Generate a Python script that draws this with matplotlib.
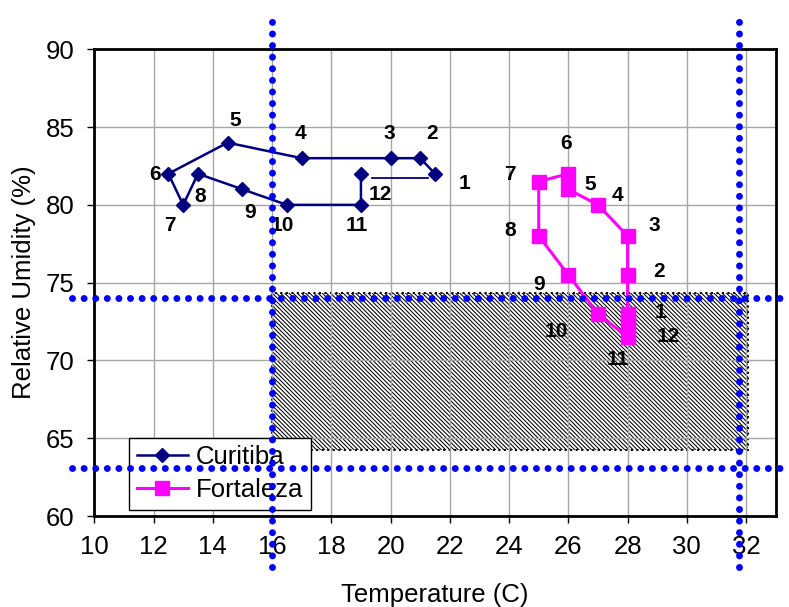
import matplotlib
matplotlib.use("Agg")
import matplotlib.pyplot as plt
from matplotlib.patches import Rectangle

plt.rcParams["font.family"] = ["Liberation Sans", "DejaVu Sans"]
plt.rcParams["hatch.linewidth"] = 0.75

months = [str(m) for m in range(1, 13)]

# mean monthly temperature (C) and relative humidity (%)
curitiba_t = [21.5, 21, 20, 17, 14.5, 12.5, 13, 13.5, 15, 16.5, 19, 19]
curitiba_rh = [82, 83, 83, 83, 84, 82, 80, 82, 81, 80, 80, 82]
fortaleza_t = [28, 28, 28, 27, 26, 26, 25, 25, 26, 27, 28, 28]
fortaleza_rh = [73, 75.5, 78, 80, 81, 82, 81.5, 78, 75.5, 73, 71.5, 72.5]

# comfort zone (hatched box) and limit lines
zone_t = [16.0, 32.05]
zone_rh = [64.25, 74.32]
limit_t = [16.0, 31.75]
limit_rh = [74.04, 63.1]
# stray connector drawn next to Curitiba month 12
stub_t = [19.37, 21.25]
stub_rh = [81.75, 81.75]

# label offsets in pixels
cur_off = [(29, -10), (12, 25), (-1, 25), (-1, 25), (8, 22), (-13, -1),
           (-13, -21), (2, -23), (8, -23), (-5, -21), (-4, -21), (19, -21)]
for_off = [(33, 1), (31, 3), (27, 10), (19, 9), (22, 5), (-2, 30),
           (-29, 7), (-29, 5), (-29, -10), (-42, -18), (-10, -22), (41, -15)]

fig = plt.figure(figsize=(7.89, 6.07), dpi=100)
ax = fig.add_axes([0.1195, 0.1499, 0.8637, 0.7689])

ax.add_patch(Rectangle((zone_t[0], zone_rh[0]), zone_t[1] - zone_t[0],
                       zone_rh[1] - zone_rh[0], facecolor="white",
                       edgecolor="black", hatch="\\" * 8, linestyle=":",
                       linewidth=1.5, zorder=0.4))

ax.plot(curitiba_t, curitiba_rh, color="#000080", marker="D", ms=7.5,
        lw=1.8, label="Curitiba", zorder=3)
ax.plot(stub_t, stub_rh, color="#000080", lw=1.3, zorder=3)
ax.plot(fortaleza_t, fortaleza_rh, color="#FF00FF", marker="s", ms=10.5,
        lw=2.2, label="Fortaleza", zorder=3)

for m, x, y, off in zip(months, curitiba_t, curitiba_rh, cur_off):
    ax.annotate(m, (x, y), xytext=off, textcoords="offset pixels",
                ha="center", va="center", fontsize=15, fontweight="bold")
for m, x, y, off in zip(months, fortaleza_t, fortaleza_rh, for_off):
    ax.annotate(m, (x, y), xytext=off, textcoords="offset pixels",
                ha="center", va="center", fontsize=15, fontweight="bold")

dots = dict(color="#0000FF", lw=5, linestyle=(0, (0.01, 1.66)),
            dash_capstyle="round", clip_on=False, zorder=10)
for t in limit_t:
    ax.axvline(t, ymin=-0.109, ymax=1.067, **dots)
for rh in limit_rh:
    ax.axhline(rh, xmin=-0.032, xmax=1.008, **dots)

ax.set_xlim(10, 33)
ax.set_ylim(60, 90)
ax.set_xticks(range(10, 33, 2))
ax.set_yticks(range(60, 91, 5))
ax.grid(True, color="#a6a6a6", lw=1)
ax.set_axisbelow(True)
for s in ax.spines.values():
    s.set_linewidth(2)
    s.set_color("black")
ax.tick_params(labelsize=18.5, length=5, width=1, pad=9)

ax.set_xlabel("Temperature (C)", fontsize=18.5, labelpad=17)
ax.set_ylabel("Relative Umidity (%)", fontsize=18.5, labelpad=7)

leg = ax.legend(loc="lower left", bbox_to_anchor=(0.051, 0.013),
                borderaxespad=0, fontsize=18.5, fancybox=False,
                edgecolor="black", framealpha=1, handlelength=2.0,
                borderpad=0.3, labelspacing=0.35, handletextpad=0.3)
leg.get_frame().set_linewidth(1)

fig.savefig("out.png", dpi=100)
